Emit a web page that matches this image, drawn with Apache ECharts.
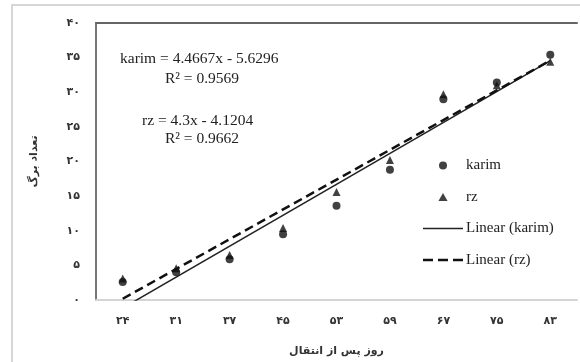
<!DOCTYPE html>
<html>
<head>
<meta charset="utf-8">
<script src="https://cdn.jsdelivr.net/npm/echarts@6/dist/echarts.min.js"></script>
<style>
  html, body { margin: 0; padding: 0; background: #fff; }
  #chart { width: 580px; height: 362px; }
</style>
</head>
<body>
<div id="chart"></div>
<script>
var days = ["۲۴", "۳۱", "۳۷", "۴۵", "۵۳", "۵۹", "۶۷", "۷۵", "۸۳"];
var karim = [2.6, 4.0, 5.9, 9.5, 13.6, 18.8, 29.0, 31.4, 35.4];
var rz = [3.1, 4.6, 6.5, 10.4, 15.6, 20.2, 29.7, 31.0, 34.4];
// trend line ends at x = 1 and x = 9 (from the printed equations)
var trendX = [1, 9];
var karimTrend = [-1.163, 34.571];
var rzTrend = [0.180, 34.580];
var yTicks = ["۰", "۵", "۱۰", "۱۵", "۲۰", "۲۵", "۳۰", "۳۵", "۴۰"];

(function () {
  var faDigits = "۰۱۲۳۴۵۶۷۸۹";
  var toFa = function (v) {
    return String(v).replace(/[0-9]/g, function (d) { return faDigits[+d]; });
  };
  var pairs = function (ys) {
    return trendX.map(function (x, i) { return [x, ys[i]]; });
  };
  var serif = "Liberation Serif";
  var fa = "DejaVu Sans";
  var option = {
    animation: false,
    grid: { left: 96, right: 3, top: 23, bottom: 60 },
    graphic: [
      { type: "rect", shape: { x: 12, y: 5, width: 620, height: 400 }, style: { fill: "none", stroke: "#d6d6d6", lineWidth: 2 } },
      { type: "text", left: 120, top: 51, style: { text: "karim = 4.4667x - 5.6296", font: "15.5px " + serif, fill: "#222" } },
      { type: "text", left: 165, top: 71, style: { text: "R² = 0.9569", font: "15.5px " + serif, fill: "#222" } },
      { type: "text", left: 142, top: 113, style: { text: "rz = 4.3x - 4.1204", font: "15.5px " + serif, fill: "#222" } },
      { type: "text", left: 165, top: 131, style: { text: "R² = 0.9662", font: "15.5px " + serif, fill: "#222" } }
    ],
    legend: {
      orient: "vertical",
      left: 418,
      top: 153,
      itemWidth: 40,
      itemHeight: 8,
      itemGap: 16.5,
      symbolKeepAspect: true,
      textStyle: { fontFamily: serif, fontSize: 15, color: "#222", padding: [0, 0, 0, -2] },
      data: [
        { name: "karim", icon: "circle" },
        { name: "rz", icon: "path://M4,0 L8,7 L0,7 Z" },
        { name: "Linear (karim)", icon: "path://M0,0 L40,0 L40,1.5 L0,1.5 Z" },
        { name: "Linear (rz)", icon: "path://M0,0 h10 v2.5 h-10 Z M15,0 h10 v2.5 h-10 Z M30,0 h10 v2.5 h-10 Z" }
      ]
    },
    xAxis: [
      {
        type: "category",
        data: days,
        axisLine: { lineStyle: { color: "#d4d4d4", width: 2 } },
        axisTick: { show: false },
        axisLabel: { fontFamily: fa, fontWeight: "bold", fontSize: 11, color: "#333", margin: 16 },
        name: "روز پس از انتقال",
        nameLocation: "middle",
        nameGap: 46,
        nameTextStyle: { fontFamily: fa, fontWeight: "bold", fontSize: 11, color: "#333" }
      },
      {
        type: "value",
        min: 0.5,
        max: 9.5,
        position: "top",
        axisLine: { show: true, lineStyle: { color: "#666", width: 2 } },
        axisTick: { show: false },
        axisLabel: { show: false },
        splitLine: { show: false }
      }
    ],
    yAxis: {
      type: "value",
      min: 0,
      max: 40,
      interval: 5,
      axisLine: { show: true, lineStyle: { color: "#777", width: 2 } },
      axisTick: { show: false },
      splitLine: { show: false },
      axisLabel: {
        fontFamily: fa, fontWeight: "bold", fontSize: 11, color: "#333", margin: 16,
        formatter: function (v) { return yTicks[v / 5] || toFa(v); }
      },
      name: "تعداد برگ",
      nameLocation: "middle",
      nameGap: 56,
      nameTextStyle: { fontFamily: fa, fontWeight: "bold", fontSize: 11, color: "#333" }
    },
    series: [
      {
        name: "Linear (karim)",
        type: "line",
        xAxisIndex: 1,
        data: pairs(karimTrend),
        symbol: "none",
        clip: true,
        lineStyle: { color: "#222", width: 1.5 },
        itemStyle: { color: "#222" }
      },
      {
        name: "Linear (rz)",
        type: "line",
        xAxisIndex: 1,
        data: pairs(rzTrend),
        symbol: "none",
        clip: true,
        lineStyle: { color: "#111", width: 2.5, type: [9, 5] },
        itemStyle: { color: "#111" }
      },
      {
        name: "karim",
        type: "scatter",
        data: karim,
        symbol: "circle",
        symbolSize: 8,
        itemStyle: { color: "#111" }
      },
      {
        name: "rz",
        type: "scatter",
        data: rz,
        symbol: "triangle",
        symbolSize: 8,
        symbolKeepAspect: true,
        itemStyle: { color: "#111" }
      }
    ]
  };
  var myChart = echarts.init(document.getElementById("chart"));
  myChart.setOption(option);
})();
</script>
</body>
</html>
